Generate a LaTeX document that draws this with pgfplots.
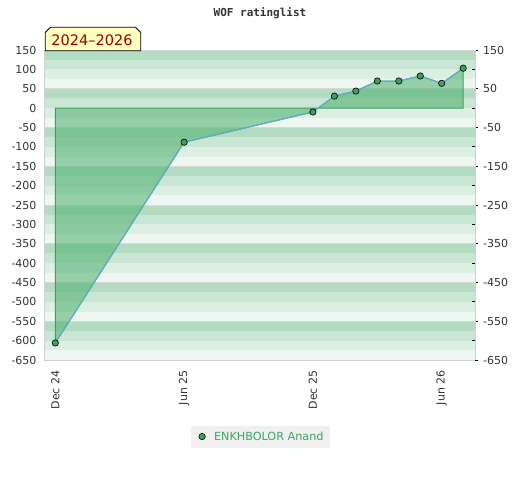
\documentclass[border=0pt]{standalone}
\usepackage{pgfplots}
\pgfplotsset{compat=1.18}
\usepackage{fontspec}
\setmainfont{DejaVu Sans}
\newfontfamily\monofont{DejaVu Sans Mono}
\definecolor{sA}{HTML}{B3DCC3}
\definecolor{sB}{HTML}{C8E6D3}
\definecolor{sC}{HTML}{DCEFE3}
\definecolor{sD}{HTML}{EFF7F2}
\definecolor{gridc}{HTML}{D8D8D8}
\definecolor{frame}{HTML}{D0D0D0}
\definecolor{tick}{HTML}{333333}
\definecolor{areafill}{HTML}{4CAF6B}
\definecolor{arealine}{HTML}{3AA35F}
\definecolor{lineblue}{HTML}{64A8DC}
\definecolor{markgreen}{HTML}{3E9E5E}
\definecolor{legbg}{HTML}{F0F0F0}
\definecolor{legtext}{HTML}{3AA860}
\definecolor{boxfill}{HTML}{FFFFC0}
\definecolor{boxtext}{HTML}{990000}
\begin{document}
\begin{tikzpicture}[x=1pt,y=1pt]
\useasboundingbox (0,0) rectangle (520,480);
\node[font=\monofont\bfseries\fontsize{11}{12}\selectfont, text=tick] at (260,467) {WOF ratinglist};
\begin{axis}[
  name=main,
  at={(45pt,120pt)}, anchor=south west,
  scale only axis, width=430pt, height=310pt,
  xmin=-0.48, xmax=19.55, ymin=-650, ymax=150,
  axis line style={draw=frame, line width=1pt},
  xtick={0,6,12,18}, xticklabels={Dec 24, Jun 25, Dec 25, Jun 26},
  ytick={-650,-600,...,150},
  tick style={draw=none},
  /pgf/number format/assume math mode=true,
  ticklabel style={font=\fontsize{11}{12}\selectfont, text=tick},
  xticklabel style={rotate=90, anchor=east, xshift=-7pt},
  yticklabel style={xshift=-5pt},
  legend style={at={(0.5007,-0.247)}, anchor=center, fill=legbg, draw=none,
    font=\fontsize{11.2}{12}\selectfont, text=legtext, inner xsep=4.5pt, inner ysep=4pt},
  legend image code/.code={\path[draw=none,fill=none] (-7pt,0pt) -- (10pt,0pt);\draw[mark=*, mark size=3.2pt, mark options={fill=markgreen, draw=black, line width=0.6pt}] plot coordinates {(0pt,0pt)};},
]
\pgfplotsinvokeforeach{150,50,-50,-150,-250,-350,-450,-550}{
  \fill[sA] (axis cs:-0.48,{#1-25}) rectangle (axis cs:19.55,{#1});
  \fill[sB] (axis cs:-0.48,{#1-50}) rectangle (axis cs:19.55,{#1-25});
  \fill[sC] (axis cs:-0.48,{#1-75}) rectangle (axis cs:19.55,{#1-50});
  \fill[sD] (axis cs:-0.48,{#1-100}) rectangle (axis cs:19.55,{#1-75});
  \draw[gridc, line width=1pt] (axis cs:-0.48,{#1}) -- (axis cs:19.55,{#1});
}
\addplot[draw=arealine, fill=areafill, fill opacity=0.55, line width=1pt, forget plot]
  coordinates {(0,0) (0,-606) (6,-88) (12,-10) (13,31) (14,44) (15,70) (16,70) (17,83) (18,64) (19,103) (19,0)} -- cycle;
\addplot[draw=lineblue, line width=1pt, mark=*, mark size=3.2pt,
  mark options={fill=markgreen, draw=black, line width=0.6pt}]
  coordinates {(0,-606) (6,-88) (12,-10) (13,31) (14,44) (15,70) (16,70) (17,83) (18,64) (19,103)};
\addlegendentry{ENKHBOLOR Anand}
\end{axis}
\begin{axis}[
  at={(45pt,120pt)}, anchor=south west,
  scale only axis, width=430pt, height=310pt,
  xmin=-0.48, xmax=19.55, ymin=-650, ymax=150,
  axis x line=none, axis y line*=right,
  axis line style={draw=frame, line width=1pt},
  ytick={-650,-550,...,150},
  extra y ticks={-600,-500,...,100},
  extra y tick labels={},
  major tick length=3pt,
  tick style={draw=black, line width=0.8pt},
  tick align=outside,
  extra y tick style={tick align=inside},
  /pgf/number format/assume math mode=true,
  ticklabel style={font=\fontsize{11}{12}\selectfont, text=tick},
  yticklabel style={xshift=1.5pt},
]
\end{axis}
\fill[boxfill, draw=black, line width=0.8pt] (45.3,429.3) -- (45.3,447.5) -- (50.5,452.7) -- (135.5,452.7) -- (140.7,447.5) -- (140.7,429.3) -- cycle;
\node[font=\fontsize{14.5}{16}\selectfont, text=boxtext] at (92,440) {2024–2026};
\end{tikzpicture}
\end{document}
